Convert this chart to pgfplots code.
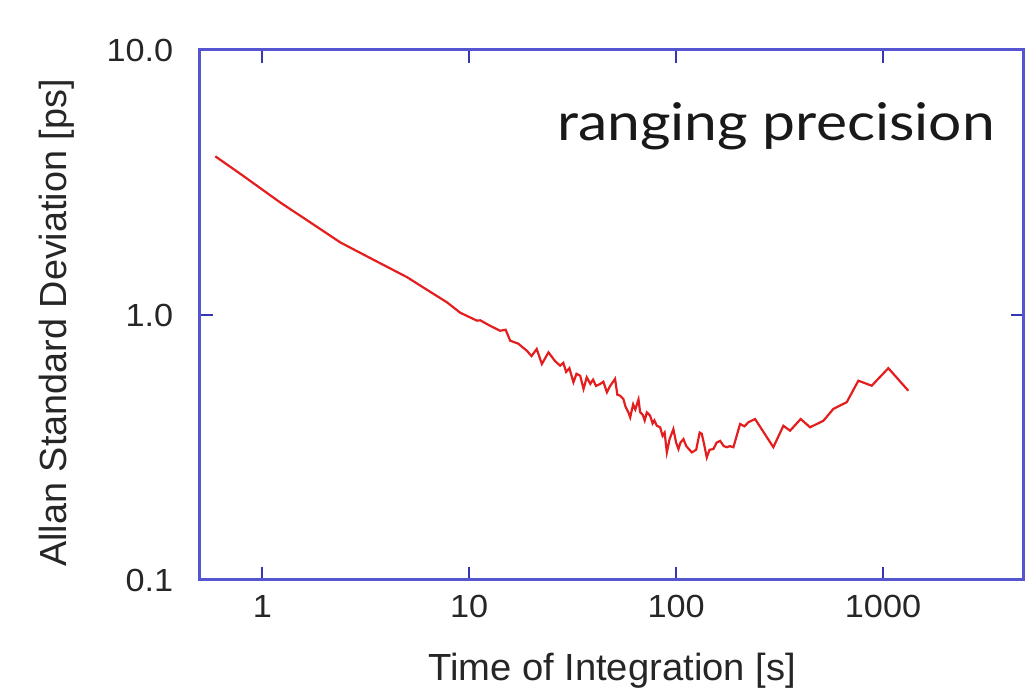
\documentclass[border=0pt]{standalone}
\usepackage{fontspec}
\setmainfont{Liberation Sans}
\newfontfamily\gill{Lato}
\usepackage{pgfplots}
\pgfplotsset{compat=1.18}
\definecolor{axblue}{RGB}{85,85,210}
\definecolor{tickblue}{RGB}{55,55,180}
\definecolor{curve}{RGB}{228,30,30}
\begin{document}
\begin{tikzpicture}
\path[use as bounding box] (-100pt,-57pt) rectangle (412.5pt,290pt);
\begin{axis}[
 at={(0,0)}, anchor=south west,
 scale only axis, width=412pt, height=265pt,
 xmode=log, ymode=log,
 xmin=0.5, xmax=4800, ymin=0.1, ymax=10,
 xtick={1,10,100,1000}, xticklabels={1,10,100,1000},
 ytick={0.1,1,10}, yticklabels={0.1,1.0,10.0},
 xminorticks=false, yminorticks=false,
 axis line style={draw=axblue, line width=1.5pt},
 every tick/.style={draw=tickblue, line width=1pt},
 major tick length=6.5pt,
 tick align=inside,
 /pgf/number format/assume math mode=true,
 ticklabel style={font=\fontsize{16}{16}\selectfont, text=black!85, xscale=1.07},
 xticklabel style={yshift=-4pt},
 yticklabel style={xshift=-9pt},
 xlabel={Time of Integration [s]},
 ylabel={Allan Standard Deviation [ps]},
 label style={font=\fontsize{18.9}{18.9}\selectfont, text=black!85},
 xlabel style={at={(axis description cs:0.5,-0.1887)}, anchor=base, xscale=1.01},
 ylabel style={at={(axis description cs:-0.1735,0.485)}, anchor=center},
 clip=false,
]
\addplot[curve, line width=1.1pt] coordinates {
(0.593,3.97) (0.8,3.37) (1.22,2.66) (1.7,2.24) (2.38,1.88) (3.4,1.625)
(5.0,1.39) (6.2,1.25) (7.8,1.117) (9.05,1.02) (10.9,0.952) (11.3,0.955)
(12.63,0.91) (14.12,0.872) (15.0,0.88) (15.78,0.80) (17.25,0.78) (19.0,0.733)
(20.0,0.70) (21.2,0.744) (22.45,0.653) (24.16,0.723) (26.0,0.67) (27.5,0.644)
(28.5,0.66) (29.4,0.61) (30.5,0.63) (31.9,0.557) (33,0.60) (34.4,0.59)
(35.7,0.526) (37.0,0.582) (38.5,0.55) (39.7,0.57) (41,0.54) (42.9,0.549)
(44.5,0.56) (46.3,0.511) (48,0.54) (50.7,0.574) (52,0.50) (53.6,0.496)
(55.6,0.482) (57,0.45) (58.8,0.429) (60.0,0.411) (62,0.46) (63.5,0.44)
(65.8,0.48) (67.0,0.43) (69,0.42) (70.5,0.40) (72.2,0.429) (74.9,0.417)
(77,0.39) (78.5,0.40) (80.7,0.382) (83.7,0.377) (86,0.35) (88,0.36)
(90.2,0.303) (93,0.34) (97.0,0.371) (100,0.33) (102.6,0.312) (105,0.33)
(108.5,0.340) (112,0.32) (119.1,0.303) (125,0.31) (130,0.36) (133.1,0.356)
(136,0.33) (140.7,0.290) (145,0.31) (151.4,0.312) (157,0.33) (163.2,0.335)
(170,0.32) (175.8,0.317) (182,0.32) (189.2,0.317) (203.8,0.388) (214,0.38)
(223.6,0.394) (240.8,0.405) (295.1,0.317) (329.9,0.382) (355.4,0.366)
(400,0.405) (444,0.377) (515,0.399) (575,0.442) (668,0.469) (760,0.565)
(882,0.541) (1061,0.630) (1325,0.518)
};
\node[anchor=base east, font=\gill\fontsize{26}{26}\selectfont, text=black!90, xscale=1.13] at (axis cs:3800,4.54) {ranging precision};
\end{axis}
\end{tikzpicture}
\end{document}
